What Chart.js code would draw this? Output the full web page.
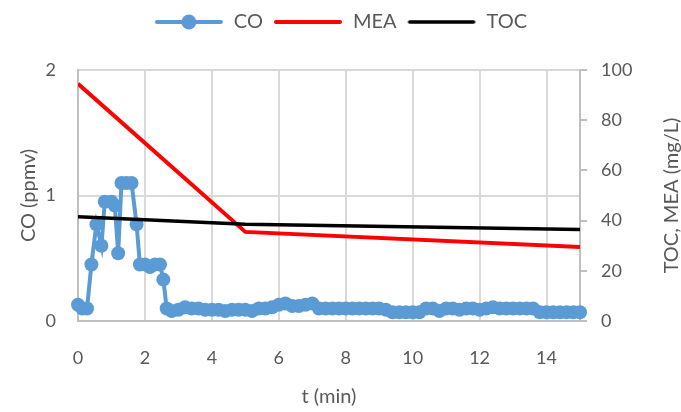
<!DOCTYPE html>
<html>
<head>
<meta charset="utf-8">
<script src="https://cdn.jsdelivr.net/npm/chart.js@4/dist/chart.umd.min.js"></script>
<style>
html,body{margin:0;padding:0;background:#fff;}
#wrap{width:681px;height:412px;}
</style>
</head>
<body>
<div id="wrap"><canvas id="c" width="681" height="412"></canvas></div>
<script>
// time (min) for CO samples
const coTime = [0, 0.13, 0.27, 0.4, 0.55, 0.7, 0.8, 1.0, 1.1, 1.2, 1.3, 1.45, 1.6, 1.75, 1.85, 2.0, 2.15, 2.3, 2.45, 2.55, 2.65,
  2.8, 3.0, 3.2, 3.4, 3.6, 3.8, 4.0, 4.2, 4.4, 4.6, 4.8, 5.0, 5.2, 5.4, 5.6, 5.8, 6.0, 6.2, 6.4, 6.6, 6.8, 7.0,
  7.2, 7.4, 7.6, 7.8, 8.0, 8.2, 8.4, 8.6, 8.8, 9.0, 9.2, 9.4, 9.6, 9.8, 10.0, 10.2, 10.4, 10.6, 10.8, 11.0,
  11.2, 11.4, 11.6, 11.8, 12.0, 12.2, 12.4, 12.6, 12.8, 13.0, 13.2, 13.4, 13.6, 13.8, 14.0, 14.2, 14.4, 14.6, 14.8, 15.0];
// CO (ppmv)
const coValues = [0.13, 0.1, 0.1, 0.45, 0.77, 0.6, 0.95, 0.95, 0.92, 0.54, 1.1, 1.1, 1.1, 0.77, 0.45, 0.45, 0.43, 0.45, 0.45, 0.33, 0.1,
  0.08, 0.09, 0.11, 0.1, 0.1, 0.09, 0.09, 0.09, 0.08, 0.09, 0.09, 0.09, 0.08, 0.1, 0.1, 0.11, 0.13, 0.14, 0.12, 0.12, 0.13, 0.14,
  0.1, 0.1, 0.1, 0.1, 0.1, 0.1, 0.1, 0.1, 0.1, 0.1, 0.09, 0.07, 0.07, 0.07, 0.07, 0.07, 0.1, 0.1, 0.08, 0.1,
  0.1, 0.09, 0.1, 0.1, 0.09, 0.1, 0.11, 0.1, 0.1, 0.1, 0.1, 0.1, 0.1, 0.07, 0.07, 0.07, 0.07, 0.07, 0.07, 0.07];
// MEA (mg/L)
const meaTime = [0, 5, 15];
const meaValues = [94.5, 35.5, 29.5];
// TOC (mg/L)
const tocTime = [0, 5, 15];
const tocValues = [41.5, 38.5, 36.5];
// tick settings
const xTicks = {min: 0, max: 15, step: 2};
const coTicks = {min: 0, max: 2, step: 1};
const rightTicks = {min: 0, max: 100, step: 20};
const rightTitle = 'TOC, MEA (mg/L)';

const txt = '#595959';
const FONT = 'Lato, "Open Sans", sans-serif';

function pts(xs, ys){ return xs.map((x,i)=>({x:x, y:ys[i]})); }

function legendImg(color, lw, marker){
  const cv = document.createElement('canvas');
  cv.width = 70; cv.height = 18;
  const g = cv.getContext('2d');
  g.strokeStyle = color; g.lineWidth = lw; g.lineCap = 'round';
  g.beginPath(); g.moveTo(3, 9); g.lineTo(67, 9); g.stroke();
  if (marker){
    g.fillStyle = color;
    g.beginPath(); g.arc(35, 9, 7.5, 0, Math.PI*2); g.fill();
  }
  return cv;
}
const legImgs = [legendImg('#5b9bd5', 4, true), legendImg('#ff0000', 4, false), legendImg('#000000', 3.5, false)];

const layoutPlugin = {
  id: 'layoutTweaks',
  beforeInit(chart){
    const lg = chart.legend;
    if (lg && !lg._patched){
      const fit = lg.fit;
      lg.fit = function(){ fit.call(this); this.height += 28; };
      lg._patched = true;
    }
  },
  afterDraw(chart){
    const s = chart.scales.y1;
    const ctx = chart.ctx;
    ctx.save();
    ctx.translate(672, (s.top + s.bottom) / 2);
    ctx.rotate(-Math.PI / 2);
    ctx.fillStyle = txt;
    ctx.font = '20px ' + FONT;
    ctx.textAlign = 'center';
    ctx.textBaseline = 'middle';
    ctx.fillText(rightTitle, 0, 0);
    ctx.restore();
  }
};

new Chart(document.getElementById('c'), {
  type: 'line',
  plugins: [layoutPlugin],
  data: {
    datasets: [
      {label: 'CO', data: pts(coTime, coValues), yAxisID: 'y', borderColor: '#5b9bd5', backgroundColor: '#5b9bd5',
       borderWidth: 4, pointRadius: 7, pointBorderWidth: 0, pointBackgroundColor: '#5b9bd5', tension: 0, clip: false, order: 3},
      {label: 'MEA', data: pts(meaTime, meaValues), yAxisID: 'y1', borderColor: '#ff0000', backgroundColor: '#ff0000',
       borderWidth: 4, pointRadius: 0, tension: 0, order: 2},
      {label: 'TOC', data: pts(tocTime, tocValues), yAxisID: 'y1', borderColor: '#000000', backgroundColor: '#000000',
       borderWidth: 3.5, pointRadius: 0, tension: 0, order: 1}
    ]
  },
  options: {
    responsive: false,
    animation: false,
    layout: {padding: {top: 2, left: 0, right: 0, bottom: 0}},
    plugins: {
      tooltip: {enabled: false},
      legend: {
        position: 'top',
        labels: {
          usePointStyle: true,
          pointStyleWidth: 70,
          boxHeight: 18,
          padding: 10,
          color: txt,
          font: {family: FONT, size: 20},
          generateLabels: (chart) => chart.data.datasets.map((ds, i) => ({
            text: ds.label, pointStyle: legImgs[i], fontColor: txt, datasetIndex: i,
            hidden: false, lineWidth: 0, strokeStyle: 'transparent', fillStyle: 'transparent'
          }))
        }
      }
    },
    scales: {
      x: {
        type: 'linear', min: xTicks.min, max: xTicks.max,
        ticks: {stepSize: xTicks.step, includeBounds: false, color: txt, font: {family: FONT, size: 18}, padding: 26, maxRotation: 0},
        grid: {color: '#d9d9d9', lineWidth: 2, drawTicks: false},
        border: {color: '#bfbfbf', width: 2},
        title: {display: true, text: 't (min)', color: txt, font: {family: FONT, size: 20}, padding: {top: 0, bottom: 3}},
        afterFit: (s) => { s.height = 91; }
      },
      y: {
        type: 'linear', position: 'left', min: coTicks.min, max: coTicks.max,
        ticks: {stepSize: coTicks.step, color: txt, font: {family: FONT, size: 18}, padding: 22},
        grid: {color: '#d9d9d9', lineWidth: 2, drawTicks: false},
        border: {color: '#bfbfbf', width: 2},
        title: {display: true, text: 'CO (ppmv)', color: txt, font: {family: FONT, size: 20}, padding: {top: 17, bottom: 0}},
        afterFit: (s) => { s.width = 78; }
      },
      y1: {
        type: 'linear', position: 'right', min: rightTicks.min, max: rightTicks.max,
        ticks: {stepSize: rightTicks.step, color: txt, font: {family: FONT, size: 18}, padding: 14},
        grid: {drawOnChartArea: false, drawTicks: true, tickLength: 7, color: '#bfbfbf', lineWidth: 2},
        border: {color: '#bfbfbf', width: 2},
        title: {display: false},
        afterFit: (s) => { s.width = 101; }
      }
    }
  }
});
</script>
</body>
</html>
